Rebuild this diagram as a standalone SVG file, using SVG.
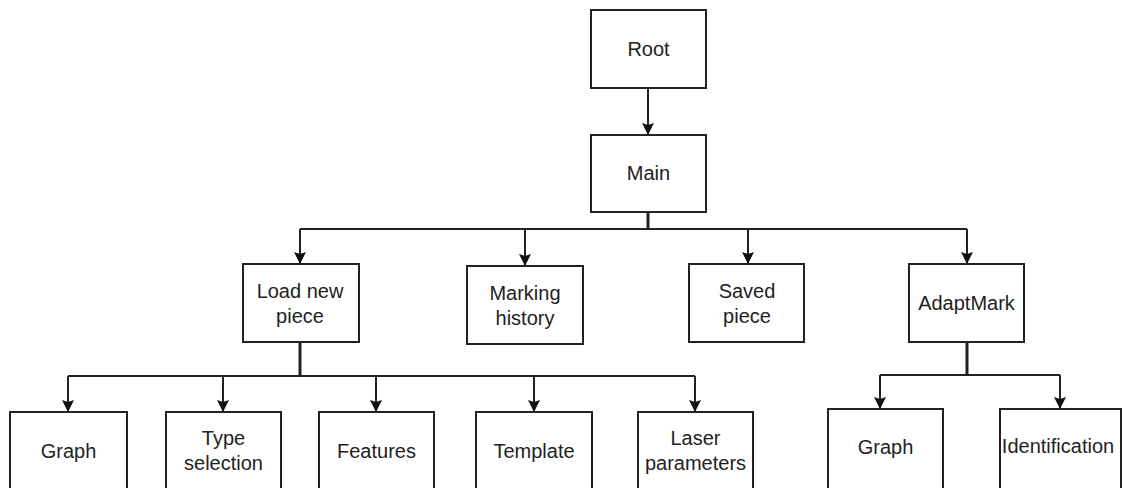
<svg xmlns="http://www.w3.org/2000/svg" width="1122" height="488" viewBox="0 0 1122 488">
<style>
.box{fill:#fff;stroke:#222;stroke-width:2}
.t{font-family:"Liberation Sans",Arial,sans-serif;font-size:20px;fill:#222;text-anchor:middle}
.c{fill:none;stroke:#222;stroke-width:2}
.trunk{fill:none;stroke:#222;stroke-width:3}
.a{marker-end:url(#arr)}
</style>
<defs>
<marker id="arr" viewBox="0 0 12 12" refX="12" refY="6" markerWidth="12" markerHeight="12" markerUnits="userSpaceOnUse" orient="auto">
<path d="M0,0 L12,6 L0,12 L2,6 z" fill="#111"/>
</marker>
</defs>
<rect width="1122" height="488" fill="#fff"/>
<g id="connectors">
<path class="c a" d="M648,88 V135" stroke="#555"/>
<path class="trunk" d="M648,212 V229"/>
<path class="c" d="M300,229 H967"/>
<path class="c a" d="M300,229 V264"/>
<path class="c a" d="M525,229 V266"/>
<path class="c a" d="M748,229 V264"/>
<path class="c a" d="M967,229 V264"/>
<path class="trunk" d="M300,342 V376"/>
<path class="c" d="M68,376 H695"/>
<path class="c a" d="M68,376 V412"/>
<path class="c a" d="M223,376 V412"/>
<path class="c a" d="M376,376 V412"/>
<path class="c a" d="M534,376 V412"/>
<path class="c a" d="M695,376 V412"/>
<path class="trunk" d="M967,342 V375"/>
<path class="c" d="M880,375 H1060"/>
<path class="c a" d="M880,375 V409"/>
<path class="c a" d="M1060,375 V409"/>
</g>
<g id="root"><rect class="box" x="591" y="10" width="115" height="78"/><text class="t" x="648.5" y="56">Root</text></g>
<g id="main"><rect class="box" x="591" y="135" width="115" height="77"/><text class="t" x="648.5" y="180">Main</text></g>
<g id="load-new-piece"><rect class="box" x="243" y="264" width="116" height="78"/><text class="t" x="300" y="298">Load new</text><text class="t" x="300" y="323">piece</text></g>
<g id="marking-history"><rect class="box" x="467" y="266" width="116" height="78"/><text class="t" x="525" y="300">Marking</text><text class="t" x="525" y="325">history</text></g>
<g id="saved-piece"><rect class="box" x="689" y="264" width="115" height="78"/><text class="t" x="747" y="298">Saved</text><text class="t" x="747" y="323">piece</text></g>
<g id="adaptmark"><rect class="box" x="909" y="264" width="115" height="78"/><text class="t" x="966.5" y="310">AdaptMark</text></g>
<g id="graph"><rect class="box" x="10" y="412" width="117" height="80"/><text class="t" x="68.5" y="458">Graph</text></g>
<g id="type-selection"><rect class="box" x="166" y="412" width="115" height="80"/><text class="t" x="223.5" y="445">Type</text><text class="t" x="223.5" y="470">selection</text></g>
<g id="features"><rect class="box" x="319" y="412" width="115" height="80"/><text class="t" x="376.5" y="458">Features</text></g>
<g id="template"><rect class="box" x="476" y="412" width="116" height="80"/><text class="t" x="534" y="458">Template</text></g>
<g id="laser-parameters"><rect class="box" x="638" y="412" width="115" height="80"/><text class="t" x="695.5" y="445">Laser</text><text class="t" x="695.5" y="470">parameters</text></g>
<g id="graph-2"><rect class="box" x="828" y="409" width="115" height="83"/><text class="t" x="885.5" y="454">Graph</text></g>
<g id="identification"><rect class="box" x="1000" y="409" width="121" height="83"/><text class="t" x="1058" y="453">Identification</text></g>
</svg>
